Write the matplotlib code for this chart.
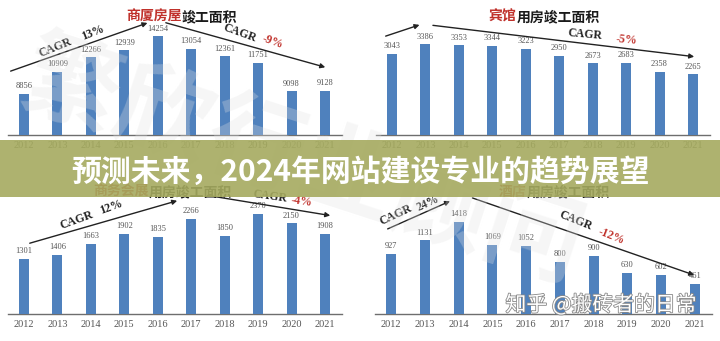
import matplotlib.pyplot as plt
import matplotlib.patheffects as pe
from matplotlib.patches import Rectangle

plt.rcParams['font.family'] = ['Noto Sans CJK SC', 'DejaVu Sans']

# === datos ===
years = ['2012', '2013', '2014', '2015', '2016', '2017', '2018', '2019', '2020', '2021']

shangsha = [8856, 10909, 12266, 12939, 14254, 13054, 12361, 11751, 9098, 9128]
binguan = [3043, 3386, 3353, 3344, 3223, 2950, 2673, 2683, 2358, 2265]
huizhan = [1301, 1406, 1663, 1902, 1835, 2266, 1850, 2370, 2150, 1908]
jiudian = [927, 1131, 1418, 1069, 1052, 800, 900, 630, 602, 461]

titles = [('商厦房屋', '竣工面积'), ('宾馆', '用房竣工面积'),
          ('商务会展', '用房竣工面积'), ('酒店', '用房竣工面积')]
cagr_up = ['13%', None, '12%', '24%']
cagr_down = ['-9%', '-5%', '-4%', '-12%']

BAR = '#4f81bd'
RED = '#c0312b'
INK = '#222222'
SERIF = 'Liberation Serif'

W, H = 720, 341
fig = plt.figure(figsize=(W / 100, H / 100), dpi=100)
fig.patch.set_facecolor('white')


def px_axes(x0, x1, ybase, ytop):
    return fig.add_axes([x0 / W, (H - ybase) / H, (x1 - x0) / W, (ybase - ytop) / H])


# ejes en pixeles: (izq, der, base, tope), limites y, centro del titulo (fraccion x)
specs = [
    (shangsha, (8, 342, 135, 10), 5000, 16715, 0.52),
    (binguan, (376, 710, 135, 10), 0, 4671, 0.50),
    (huizhan, (8, 342, 314, 185), 0, 3064, 0.46),
    (jiudian, (375, 712, 314, 185), 0, 1985, 0.53),
]

# flechas CAGR en coordenadas de datos
arrows_up = [((-0.48, 10900), (3.77, 15590)), ((-0.27, 3662), (0.9, 4148)),
             ((0.09, 1663), (4.66, 2708)), ((-0.18, 1292), (1.82, 1754))]
arrows_down = [((4.16, 15590), (9.09, 11280)), ((1.14, 4110), (9.12, 2915)),
               ((5.41, 2827), (9.24, 2328)), ((2.33, 1800), (9.06, 585))]
# (x, y) de "CAGR" y del porcentaje, rotacion
up_text = [((0.93, 13154), (2.06, 14560), 22), None,
           ((1.58, 2233), (2.6, 2541), 20), ((0.15, 1523), (1.08, 1708), 25)]
down_text = [((6.46, 14560), (7.45, 13716), -20), ((5.77, 3737), (7.03, 3550), -5),
             ((7.36, 2800), (8.31, 2660), -8), ((5.47, 1430), (6.52, 1200), -22)]

for i, (vals, (x0, x1, yb, yt), lo, hi, tx) in enumerate(specs):
    ax = px_axes(x0, x1, yb, yt)
    ax.set_facecolor('none')
    xs = range(len(years))
    ax.bar(xs, [v - lo for v in vals], bottom=lo, width=0.3, color=BAR, zorder=3)
    for x, v in zip(xs, vals):
        ax.text(x, v + (hi - lo) * 0.03, str(v), ha='center', va='bottom',
                fontsize=6, color='#555555', family=SERIF, zorder=4)
    ax.set_xlim(-0.48, 9.51)
    ax.set_ylim(lo, hi)
    ax.set_xticks(list(xs))
    ax.set_xticklabels(years, family=SERIF, fontsize=7.5, color='#555555')
    ax.tick_params(axis='x', length=0, pad=4)
    ax.set_yticks([])
    for s in ['top', 'right', 'left']:
        ax.spines[s].set_visible(False)
    ax.spines['bottom'].set_color('#6e6e6e')
    ax.spines['bottom'].set_linewidth(1.0)

    # titulo en dos colores
    red_part, black_part = titles[i]
    t1 = ax.text(tx - 0.02 * len(black_part) + 0.02 * len(red_part), 1.0, red_part,
                 transform=ax.transAxes, ha='right', va='top',
                 fontsize=10, fontweight='bold', color=RED, zorder=5)
    ax.annotate(black_part, xy=(1, 0), xycoords=t1, ha='left', va='bottom',
                fontsize=10, fontweight='bold', color='#1a1a1a', zorder=5)

    kw = dict(arrowstyle='-|>', color=INK, lw=1.0, mutation_scale=7)
    a, b = arrows_up[i]
    ax.annotate('', xy=b, xytext=a, arrowprops=kw, annotation_clip=False, zorder=5)
    a, b = arrows_down[i]
    ax.annotate('', xy=b, xytext=a, arrowprops=kw, annotation_clip=False, zorder=5)

    txt = dict(ha='center', va='center', family=SERIF, fontsize=8.5,
               fontweight='bold', zorder=5)
    if up_text[i] is not None:
        c, p, rot = up_text[i]
        ax.text(*c, 'CAGR', rotation=rot, color=INK, **txt)
        ax.text(*p, cagr_up[i], rotation=rot, color=INK, **txt)
    c, p, rot = down_text[i]
    ax.text(*c, 'CAGR', rotation=rot, color=INK, **txt)
    ax.text(*p, cagr_down[i], rotation=rot, color=RED, **txt)

# marca de agua de fondo
fig.text(0.42, 0.52, '繁欣行业顾问', fontsize=70, fontweight='bold', color='#e2e2e2',
         alpha=0.3, rotation=-18, ha='center', va='center', zorder=0)

# franja con el titular
fig.patches.append(Rectangle((0, (H - 197) / H), 1, 57 / H, transform=fig.transFigure,
                             facecolor='#a5aa5f', alpha=0.9, edgecolor='none', zorder=10))
fig.text(0.5, (H - 172) / H, '预测未来，2024年网站建设专业的趋势展望', ha='center', va='center',
         fontsize=21.5, fontweight='bold', color='white', zorder=11)

fig.text(0.835, (H - 305) / H, '知乎 @搬砖者的日常', ha='center', va='center', fontsize=15,
         color='white', zorder=12,
         path_effects=[pe.withStroke(linewidth=1.2, foreground='#888888')])

fig.savefig('out.png', dpi=100)
